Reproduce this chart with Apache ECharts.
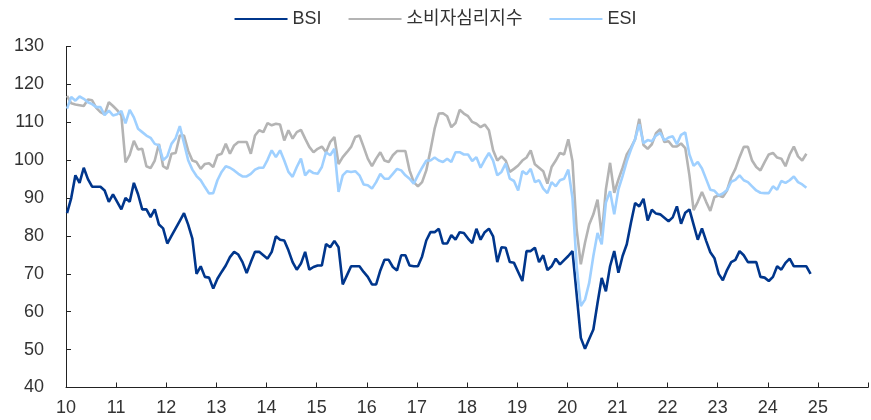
<!DOCTYPE html>
<html>
<head>
<meta charset="utf-8">
<script src="https://cdn.jsdelivr.net/npm/echarts@6.0.0/dist/echarts.min.js"></script>
<style>
    html, body { margin: 0; padding: 0; background: #fff; }
    #main { width: 871px; height: 420px; }
</style>
</head>
<body>
<div id="main"></div>
<script>
// 월별 자료, 2010년 1월부터
var startYear = 2010;
var legendNames = ['BSI', '소비자심리지수', 'ESI'];
var yearTicks = ['10', '11', '12', '13', '14', '15', '16', '17', '18', '19', '20', '21', '22', '23', '24', '25'];

var bsi = [
    86, 90, 96, 94, 98, 95, 93, 93, 93, 92, 89, 91,
    89, 87, 90, 89, 94, 91, 87, 87, 85, 87, 83, 82,
    78, 80, 82, 84, 86, 83, 79.3, 70, 72, 69.2, 69, 66.1,
    68.7, 70.5, 72.2, 74.4, 75.8, 75.1, 73.1, 70.2, 73.1, 75.8, 75.8, 74.9,
    74, 75.8, 79.9, 79, 78.8, 76.2, 73.1, 71.1, 72.7, 75.8, 71.1, 71.8,
    72.2, 72.2, 77.9, 77, 78.7, 77, 67.2, 69.6, 72, 72, 72, 70.5,
    69.2, 67.2, 67.2, 70.9, 73.7, 73.7, 71.8, 70.9, 74.9, 74.9, 72.2, 72,
    72, 74.6, 78.8, 81, 81, 81.9, 78, 78, 80.2, 79, 81, 80.8,
    79.3, 78.1, 81.9, 79, 81, 81.9, 79.9, 73.1, 77, 76.9, 73.1, 72.9,
    70.5, 68.1, 76, 76, 76.9, 73.1, 74.9, 71, 72, 74, 72.5, 73.6,
    74.7, 76, 64.6, 53.1, 50.2, 52.8, 55.3, 62.3, 68.9, 65.4, 72, 76,
    70.3, 74.7, 77.8, 83.5, 88.7, 87.8, 89.8, 84.1, 86.9, 85.9, 85.7, 84.8,
    83.9, 84.9, 87.8, 83.2, 86.1, 87, 83, 79, 82, 78.7, 75.7, 74.1,
    70, 68.3, 71, 73.1, 73.7, 76, 74.9, 73.1, 73.1, 73.1, 69.2, 69,
    68.1, 69.2, 72, 71.1, 72.9, 74, 72, 72, 72, 72, 70
];

var ccsi = [
    117, 115, 114.7, 114.5, 114.3, 116, 115.8, 113.8, 112.7, 112.1, 115.3, 114.3,
    113.2, 111.8, 99.4, 101.4, 105.1, 102.8, 103, 98.4, 97.9, 99.9, 104.3, 98.4,
    97.7, 101.7, 101.9, 106.5, 106.5, 102.5, 99.9, 99.5, 97.7, 99, 99.2, 98.2,
    101.3, 101.7, 104.3, 101.7, 103.9, 104.8, 104.8, 104.8, 101.7, 106.5, 107.9, 107.4,
    109.8, 109.2, 109.6, 109.4, 105.2, 107.9, 105.7, 107.4, 108, 105.7, 103.5, 102.1,
    103, 103.6, 102.1, 104.8, 106.1, 99, 100.8, 102.1, 103.5, 106.1, 106.5, 103.5,
    100.4, 98.4, 100.4, 102.1, 99.9, 99.5, 101.3, 102.4, 102.4, 102.4, 97.3, 94.2,
    93.1, 94.2, 97.3, 102.6, 108.3, 112.3, 112.4, 111.6, 108.7, 109.8, 113.3, 112.3,
    111.6, 110.1, 109.6, 108.7, 109.4, 107.9, 102.6, 99.9, 101, 99.9, 96.9, 97.7,
    98.6, 99.9, 100.7, 102.6, 98.9, 98, 97.1, 93.8, 98.2, 99.9, 101.9, 101.5,
    105.5, 99.7, 81.7, 72.5, 78.2, 83, 85.7, 89.6, 79.9, 92.3, 99.3, 91.4,
    94.9, 98, 101.5, 103.3, 105.5, 110.9, 104, 103, 104.2, 107.1, 108.2, 104.8,
    105, 103.6, 103.6, 104.4, 103.2, 96, 86.8, 89, 91.6, 89, 86.6, 90.3,
    90.7, 90.3, 92, 95.5, 97.7, 100.8, 103.5, 103.5, 99.9, 98.2, 97.3, 99.5,
    101.5, 101.9, 100.7, 100.4, 98.4, 101.5, 103.6, 101, 99.9, 101.7
];

var esi = [
    113.6, 116.7, 115.7, 116.8, 116.2, 115.3, 114.8, 114, 114, 111.9, 113.1, 111.8,
    112.1, 113, 109.7, 113.3, 111.3, 108.3, 107.4, 106.5, 105.9, 104.3, 103.9, 100,
    101, 104.3, 105.8, 109, 104.5, 100, 97.5, 95.8, 94.7, 92.9, 91.2, 91.3,
    94.7, 96.9, 98.4, 98, 97.3, 96.4, 95.7, 95.7, 96.4, 97.5, 98, 98,
    100.1, 102.6, 100.8, 102.6, 99.9, 96.9, 95.6, 98.2, 100.4, 96, 97.3, 96.6,
    96.4, 98.2, 102.1, 101.3, 103, 91.6, 96, 97.1, 96.9, 97.1, 96, 93.6,
    93.4, 92.5, 94.2, 96.4, 95.1, 95.1, 96.4, 97.7, 97.3, 96, 95.1, 93.8,
    96, 98, 99.9, 99.9, 100.7, 99.9, 99.5, 100.4, 99.5, 102.1, 102.1, 101.5,
    101.5, 99.8, 100.8, 98, 100.1, 101.9, 99.9, 96, 96.9, 99.1, 95.1, 94.5,
    92, 97.1, 96.3, 97.7, 94.2, 94.7, 92.5, 91.3, 94.2, 93.1, 94.7, 95.1,
    97.5, 90, 72, 61.5, 63.2, 67.6, 74.7, 80.8, 77.8, 88.8, 91.8, 85.7,
    92.3, 95.8, 99.7, 102.8, 105.6, 109.5, 104.5, 105.3, 105, 106.5, 107.2, 105.2,
    106, 106.3, 104.2, 106.7, 107.3, 101.5, 98.5, 99.5, 97.8, 95, 92.2, 91.9,
    90.7, 91.2, 92.1, 94.3, 94.8, 96, 94.7, 94.2, 93.1, 92, 91.4, 91.3,
    91.3, 93.1, 92.2, 94.5, 94, 94.7, 95.7, 94.2, 93.6, 92.7
];

var colors = ['#00368c', '#b4b4b4', '#9fd0ff'];

// 월 순번 -> 연도 축 위치
function toPoints(arr) {
    return arr.map(function (v, i) {
        return [startYear + (i + 0.25) / 12, v];
    });
}

var myChart = echarts.init(document.getElementById('main'), null, { renderer: 'canvas' });

var font = '"Liberation Sans", Arial, "Noto Sans CJK KR", sans-serif';

var option = {
    animation: false,
    color: colors,
    textStyle: { fontFamily: font },
    legend: {
        top: 5,
        left: 'center',
        itemWidth: 53,
        itemHeight: 14,
        itemGap: 27,
        icon: 'path://M0,6 L53,6 L53,8 L0,8 Z',
        textStyle: { fontSize: 18, color: '#333', fontFamily: font, padding: [0, 0, 0, 0] },
        data: legendNames
    },
    grid: {
        left: 66,
        right: 3,
        top: 46.5,
        bottom: 32.5,
        containLabel: false
    },
    xAxis: {
        type: 'value',
        min: 2010,
        max: 2026,
        interval: 1,
        axisLine: { show: true, lineStyle: { color: '#222', width: 1 } },
        axisTick: { show: true, inside: true, length: 5, lineStyle: { color: '#222' } },
        splitLine: { show: false },
        axisLabel: {
            margin: 12,
            fontSize: 18,
            color: '#333',
            fontFamily: font,
            showMaxLabel: true,
            formatter: function (v) {
                var k = Math.round(v) - startYear;
                return yearTicks[k] || '';
            }
        }
    },
    yAxis: {
        type: 'value',
        min: 40,
        max: 130,
        interval: 10,
        axisLine: { show: true, lineStyle: { color: '#222', width: 1 } },
        axisTick: { show: true, inside: true, length: 5, lineStyle: { color: '#222' } },
        splitLine: { show: false },
        axisLabel: { margin: 22, fontSize: 18, color: '#333', fontFamily: font }
    },
    series: [
        {
            name: legendNames[0],
            type: 'line',
            data: toPoints(bsi),
            showSymbol: false,
            symbol: 'none',
            lineStyle: { width: 2.6, color: colors[0] }
        },
        {
            name: legendNames[1],
            type: 'line',
            data: toPoints(ccsi),
            showSymbol: false,
            symbol: 'none',
            lineStyle: { width: 2.6, color: colors[1] }
        },
        {
            name: legendNames[2],
            type: 'line',
            data: toPoints(esi),
            showSymbol: false,
            symbol: 'none',
            lineStyle: { width: 2.6, color: colors[2] }
        }
    ]
};

myChart.setOption(option);
</script>
</body>
</html>
